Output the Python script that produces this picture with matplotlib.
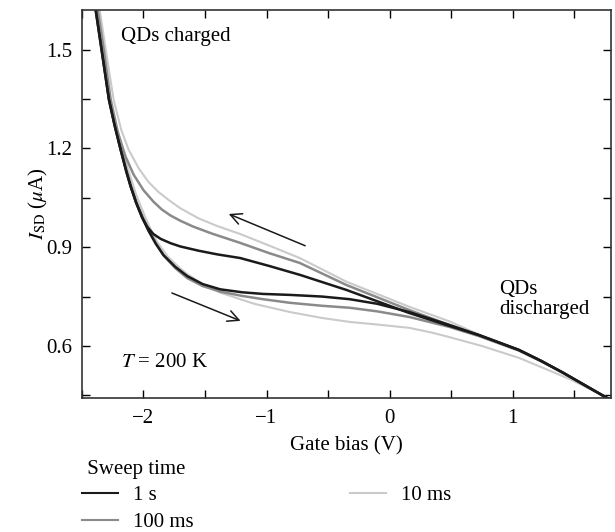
import matplotlib
matplotlib.use('Agg')
import matplotlib.pyplot as plt
from matplotlib.lines import Line2D
from matplotlib.ticker import MultipleLocator, FormatStrFormatter

plt.rcParams['font.family'] = ['Liberation Serif', 'DejaVu Serif']
plt.rcParams['mathtext.fontset'] = 'stix'
plt.rcParams['font.size'] = 15

# sweep time 1 s : upper branch (sweep to negative) / lower branch (sweep to positive)
x_1s_up = [-2.389, -2.341, -2.281, -2.235, -2.186, -2.14, -2.105, -2.06, -2.011, -1.97, -1.92, -1.86, -1.78, -1.70,
           -1.55, -1.40, -1.215, -0.98, -0.73, -0.35, 0.16, 0.484, 0.726, 1.05, 1.23, 1.414, 1.6, 1.754, 1.79]
y_1s_up = [1.621, 1.500, 1.348, 1.27, 1.196, 1.13, 1.085, 1.035, 0.990, 0.962, 0.940, 0.925, 0.912, 0.902,
           0.889, 0.878, 0.867, 0.843, 0.816, 0.770, 0.700, 0.661, 0.633, 0.588, 0.555, 0.518, 0.478, 0.445, 0.438]
x_1s_dn = [-2.389, -2.341, -2.281, -2.235, -2.186, -2.14, -2.105, -2.06, -2.011, -1.96, -1.90, -1.838, -1.741, -1.644,
           -1.52, -1.377, -1.2, -1.03, -0.81, -0.55, -0.325, -0.1, 0.16, 0.484, 0.726, 1.05, 1.23, 1.414, 1.6, 1.754, 1.79]
y_1s_dn = [1.621, 1.500, 1.348, 1.27, 1.196, 1.13, 1.085, 1.035, 0.990, 0.950, 0.910, 0.876, 0.840, 0.812,
           0.788, 0.772, 0.763, 0.758, 0.755, 0.750, 0.742, 0.728, 0.703, 0.664, 0.633, 0.588, 0.555, 0.518, 0.478, 0.445, 0.438]

# sweep time 100 ms
x_100_up = [-2.372, -2.323, -2.267, -2.21, -2.146, -2.08, -2.0, -1.919, -1.85, -1.78, -1.70, -1.60, -1.45, -1.215,
            -0.98, -0.73, -0.35, 0.16, 0.484, 0.726, 1.05, 1.23, 1.414, 1.6, 1.754, 1.79]
y_100_up = [1.621, 1.500, 1.348, 1.25, 1.175, 1.12, 1.073, 1.038, 1.014, 0.996, 0.980, 0.963, 0.942, 0.913,
            0.882, 0.852, 0.785, 0.709, 0.664, 0.633, 0.588, 0.555, 0.518, 0.478, 0.445, 0.438]
x_100_dn = [-2.385, -2.336, -2.276, -2.23, -2.180, -2.135, -2.100, -2.055, -2.005, -1.955, -1.895, -1.835, -1.741, -1.644,
            -1.52, -1.377, -1.2, -1.03, -0.81, -0.55, -0.325, -0.1, 0.16, 0.484, 0.726, 1.05, 1.23, 1.414, 1.6, 1.754, 1.79]
y_100_dn = [1.621, 1.500, 1.348, 1.27, 1.196, 1.13, 1.085, 1.035, 0.990, 0.950, 0.910, 0.874, 0.836, 0.806,
            0.782, 0.765, 0.752, 0.742, 0.731, 0.722, 0.716, 0.705, 0.688, 0.658, 0.630, 0.586, 0.554, 0.517, 0.478, 0.445, 0.438]

# sweep time 10 ms
x_10_up = [-2.356, -2.307, -2.243, -2.18, -2.121, -2.04, -1.96, -1.88, -1.798, -1.701, -1.55, -1.40, -1.215,
           -0.98, -0.73, -0.35, 0.16, 0.484, 0.726, 1.05, 1.23, 1.414, 1.6, 1.754, 1.79]
y_10_up = [1.621, 1.500, 1.348, 1.255, 1.196, 1.14, 1.098, 1.068, 1.044, 1.018, 0.987, 0.964, 0.940,
           0.905, 0.867, 0.795, 0.719, 0.675, 0.635, 0.589, 0.556, 0.518, 0.478, 0.445, 0.438]
x_10_dn = [-2.38, -2.33, -2.267, -2.22, -2.17, -2.12, -2.06, -1.985, -1.93, -1.888, -1.80, -1.70, -1.644, -1.52, -1.377,
           -1.1, -0.81, -0.55, -0.325, -0.1, 0.16, 0.35, 0.484, 0.75, 1.05, 1.25, 1.479, 1.754, 1.79]
y_10_dn = [1.621, 1.500, 1.348, 1.27, 1.196, 1.13, 1.06, 0.990, 0.945, 0.915, 0.870, 0.835, 0.818, 0.788, 0.762,
           0.728, 0.703, 0.685, 0.673, 0.665, 0.655, 0.640, 0.627, 0.600, 0.564, 0.533, 0.497, 0.445, 0.438]

labels = ['1 s', '100 ms', '10 ms']
colors = ['#1a1a1a', '#8a8a8a', '#cacaca']

fig = plt.figure(figsize=(6.15, 5.32), dpi=100)
ax = fig.add_axes([0.1333, 0.2519, 0.8602, 0.7293])

ax.plot(x_10_up, y_10_up, color=colors[2], lw=1.5)
ax.plot(x_10_dn, y_10_dn, color=colors[2], lw=1.5)
ax.plot(x_100_up, y_100_up, color=colors[1], lw=1.8)
ax.plot(x_100_dn, y_100_dn, color=colors[1], lw=1.8)
ax.plot(x_1s_up, y_1s_up, color=colors[0], lw=1.8)
ax.plot(x_1s_dn, y_1s_dn, color=colors[0], lw=1.8)

ax.set_xlim(-2.5, 1.8)
ax.set_ylim(0.442, 1.62)
ax.xaxis.set_major_locator(MultipleLocator(1))
ax.xaxis.set_minor_locator(MultipleLocator(0.5))
ax.yaxis.set_major_locator(MultipleLocator(0.3))
ax.yaxis.set_minor_locator(MultipleLocator(0.15))
ax.yaxis.set_major_formatter(FormatStrFormatter('%.1f'))
ax.tick_params(which='both', direction='in', top=True, right=True, length=6, width=1)
ax.tick_params(axis='x', pad=8)
ax.tick_params(axis='y', pad=7)
for s in ax.spines.values():
    s.set_linewidth(1.2)
    s.set_color('#333333')

ax.set_xlabel('Gate bias (V)', labelpad=6)
ax.set_ylabel(r'$I_{\rm SD}$ ($\mu$A)', labelpad=-3)

ax.annotate('', xy=(-1.328, 1.004), xytext=(-0.665, 0.901),
            arrowprops=dict(arrowstyle='->', color='#1a1a1a', lw=1.1, mutation_scale=20))
ax.annotate('', xy=(-1.19, 0.673), xytext=(-1.79, 0.764),
            arrowprops=dict(arrowstyle='->', color='#1a1a1a', lw=1.1, mutation_scale=20))

ax.text(-2.18, 1.539, 'QDs charged', va='center', ha='left')
ax.text(0.89, 0.74, 'QDs\ndischarged', va='center', ha='left', linespacing=1.05)
ax.text(-2.18, 0.551, r'$T$ = 200 K', va='center', ha='left')

handles = [Line2D([], [], color=c, lw=1.5) for c in colors]
leg = fig.legend(handles, labels, title=' Sweep time', loc='upper left',
                 bbox_to_anchor=(0.1294, 0.140), ncol=2, frameon=False,
                 handlelength=1.75, handletextpad=0.72, columnspacing=7.5,
                 labelspacing=0.35, borderpad=0.1, borderaxespad=0.0,
                 fontsize=15, title_fontsize=15)
leg._legend_box.align = 'left'

fig.savefig('out.png', dpi=100)
